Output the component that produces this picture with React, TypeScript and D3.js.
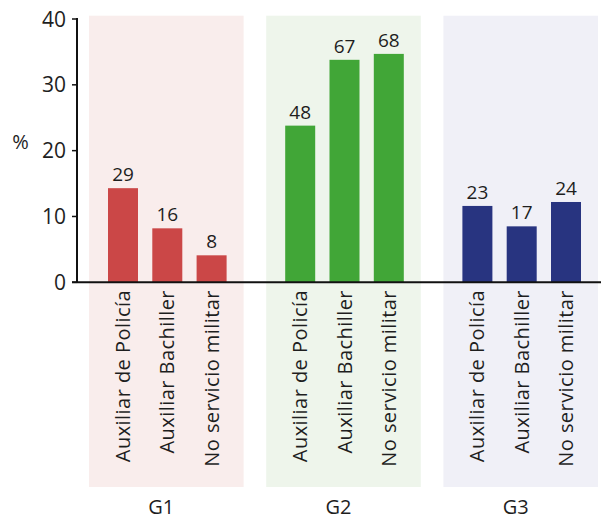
import React from "react";
import * as d3 from "d3";

const groups = ["G1", "G2", "G3"];
const categories = ["Auxiliar de Policía", "Auxiliar Bachiller", "No servicio militar"];
const barValues = [
  [14.3, 8.2, 4.1],
  [23.8, 33.8, 34.7],
  [11.6, 8.5, 12.2],
];
const valueLabels = [
  ["29", "16", "8"],
  ["48", "67", "68"],
  ["23", "17", "24"],
];
const yTicks = [0, 10, 20, 30, 40];
const barColors = ["#cb4747", "#41a637", "#283480"];
const panelColors = ["#f9edec", "#eef5eb", "#f0f0f7"];

const W = 601;
const H = 519;
const FONT = "'Open Sans', sans-serif";
const TEXT = "#1e1e1e";

export default function App() {
  const slots = d3.range(11);
  const x = d3.scalePoint<number>().domain(slots).range([123, 566]);
  const y = d3.scaleLinear().domain([0, 40]).range([282.3, 19]);
  const barW = 30;
  const slotOf = (g: number, c: number) => g * 4 + c;

  const panels = groups.map((g, gi) => {
    const x0 = (x(slotOf(gi, 0)) as number) - 34;
    const x1 = (x(slotOf(gi, 2)) as number) + 32;
    return { g, gi, x0, x1 };
  });

  return (
    <svg
      width={W}
      height={H}
      style={{ position: "absolute", left: 0, top: 0, background: "#fff" }}
      fontFamily={FONT}
    >
      {panels.map((p) => (
        <rect key={"p" + p.g} x={p.x0} y={15.7} width={p.x1 - p.x0} height={487 - 15.7} fill={panelColors[p.gi]} />
      ))}

      {groups.map((g, gi) =>
        barValues[gi].map((v, ci) => {
          const cx = x(slotOf(gi, ci)) as number;
          return (
            <g key={g + ci}>
              <rect x={cx - barW / 2} y={y(v)} width={barW} height={y(0) - y(v)} fill={barColors[gi]} />
              <text x={cx} y={y(v) - 7} textAnchor="middle" fontSize={19} fill={TEXT}>
                {valueLabels[gi][ci]}
              </text>
              <text
                transform={`translate(${cx + 7},${290}) rotate(-90)`}
                textAnchor="end"
                fontSize={20}
                letterSpacing={0.45}
                fill={TEXT}
              >
                {categories[ci]}
              </text>
            </g>
          );
        })
      )}

      {panels.map((p) => (
        <text
          key={"gl" + p.g}
          x={(p.x0 + p.x1) / 2 - 5}
          y={514}
          textAnchor="middle"
          fontSize={20}
          fill={TEXT}
        >
          {p.g}
        </text>
      ))}

      {/* y axis */}
      <line x1={77} x2={77} y1={y(40) - 1} y2={y(0)} stroke="#111" strokeWidth={2} />
      {yTicks.map((t) => (
        <g key={"t" + t}>
          <line x1={72} x2={77} y1={y(t)} y2={y(t)} stroke="#111" strokeWidth={1.5} />
          <text x={66} y={y(t)} dy="0.36em" textAnchor="end" fontSize={21} fill={TEXT}>
            {t}
          </text>
        </g>
      ))}
      <line x1={72} x2={W} y1={y(0)} y2={y(0)} stroke="#111" strokeWidth={2} />
      <text x={20.5} y={141.7} dy="0.35em" textAnchor="middle" fontSize={20} fill={TEXT}>
        %
      </text>
    </svg>
  );
}
